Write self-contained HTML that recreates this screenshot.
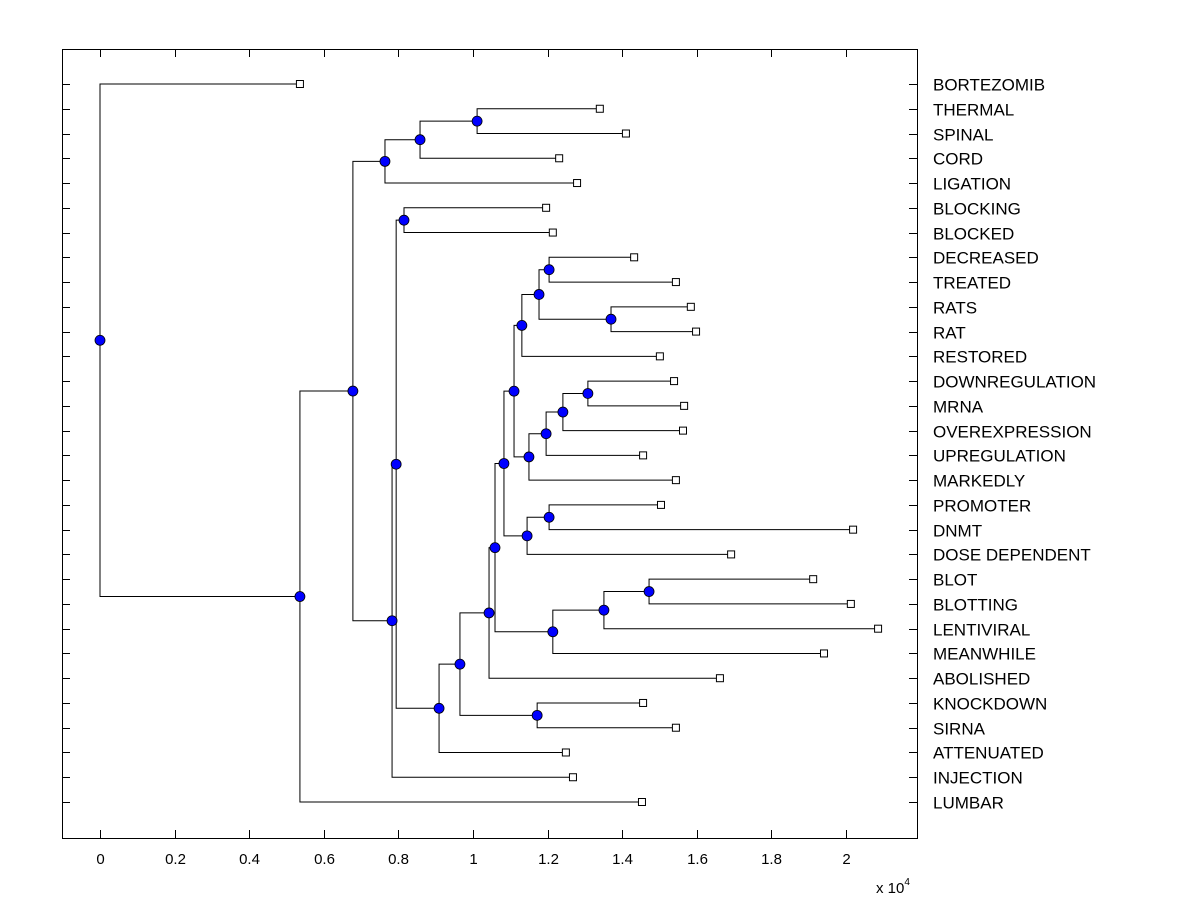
<!DOCTYPE html>
<html><head><meta charset="utf-8"><style>body{margin:0;background:#fff}svg{display:block}</style></head>
<body>
<svg id="c" width="1200" height="900" xmlns="http://www.w3.org/2000/svg" font-family="Liberation Sans, Arial, sans-serif"></svg>
<script>
const labels=["BORTEZOMIB","THERMAL","SPINAL","CORD","LIGATION","BLOCKING","BLOCKED","DECREASED","TREATED","RATS","RAT","RESTORED","DOWNREGULATION","MRNA","OVEREXPRESSION","UPREGULATION","MARKEDLY","PROMOTER","DNMT","DOSE DEPENDENT","BLOT","BLOTTING","LENTIVIRAL","MEANWHILE","ABOLISHED","KNOCKDOWN","SIRNA","ATTENUATED","INJECTION","LUMBAR"];
const leafValues=[0.536,1.340,1.410,1.231,1.279,1.196,1.214,1.432,1.544,1.584,1.598,1.501,1.539,1.566,1.563,1.456,1.544,1.504,2.019,1.692,1.912,2.013,2.086,1.941,1.662,1.456,1.544,1.249,1.268,1.453];
const mergeChildren=[
["L1","L2"],["N0","L3"],["N1","L4"],["L5","L6"],["L7","L8"],["L9","L10"],["N4","N5"],["N6","L11"],
["L12","L13"],["N8","L14"],["N9","L15"],["N10","L16"],["N7","N11"],["L17","L18"],["N13","L19"],["N12","N14"],
["L20","L21"],["N16","L22"],["N17","L23"],["N15","N18"],["N19","L24"],["L25","L26"],["N20","N21"],["N22","L27"],
["N3","N23"],["N24","L28"],["N2","N25"],["N26","L29"],["L0","N27"]];
const mergeHeights=[1.011,0.858,0.764,0.815,1.204,1.370,1.177,1.131,1.308,1.241,1.196,1.150,1.110,1.204,1.145,1.083,1.472,1.351,1.214,1.059,1.043,1.172,0.965,0.909,0.794,0.783,0.678,0.536,0];
const xTicks=[0,0.2,0.4,0.6,0.8,1,1.2,1.4,1.6,1.8,2];
const svg=document.getElementById('c'),NS="http://www.w3.org/2000/svg";
const L=62,R=917,T=49,B=838;
const xs=v=>100+v*373, ys=i=>84+i*(718/29);
function mk(t,a,name){const e=document.createElementNS(NS,t);for(const k in a)e.setAttribute(k,a[k]);


svg.appendChild(e);return e;}
mk('rect',{x:L+.5,y:T+.5,width:R-L,height:B-T,fill:'none',stroke:'#000'},'plot-area');
xTicks.forEach((t,i)=>{const x=Math.round(xs(t))+.5;
mk('line',{x1:x,x2:x,y1:B,y2:B-8,stroke:'#000'},'x-tick');
mk('line',{x1:x,x2:x,y1:T,y2:T+8,stroke:'#000'},'x-tick-top');
const tx=mk('text',{x:x,y:864,'text-anchor':'middle','font-size':15},'x-tick-label');tx.textContent=String(t);});
const xl=mk('text',{x:876,y:893,'font-size':15},'x-axis-multiplier');xl.innerHTML='x 10<tspan dy="-8" font-size="10">4</tspan>';
labels.forEach((l,i)=>{const y=Math.round(ys(i))+.5;
mk('line',{x1:L,x2:L+8,y1:y,y2:y,stroke:'#000'},'y-tick');
mk('line',{x1:R-8,x2:R,y1:y,y2:y,stroke:'#000'},'y-tick-right');
const t=mk('text',{x:933,y:y+6,'font-size':17},'leaf-label');t.textContent=l;});
const pos={};
labels.forEach((l,i)=>pos['L'+i]={x:xs(leafValues[i]),y:ys(i)});
const dots=[];
mergeChildren.forEach((c,i)=>{const a=pos[c[0]],b=pos[c[1]],x=xs(mergeHeights[i]);
mk('polyline',{points:`${a.x},${a.y} ${x},${a.y} ${x},${b.y} ${b.x},${b.y}`,fill:'none',stroke:'#000','stroke-width':1},'dendrogram-link');
pos['N'+i]={x:x,y:(a.y+b.y)/2};dots.push(pos['N'+i]);});
labels.forEach((l,i)=>{const p=pos['L'+i];mk('rect',{x:p.x-3.5,y:p.y-3.5,width:7,height:7,fill:'#fff',stroke:'#000'},'leaf-marker');});
dots.forEach(p=>mk('circle',{cx:p.x,cy:p.y,r:5,fill:'#0000ff',stroke:'#000','stroke-width':0.8},'node-marker'));
</script>
</body></html>
